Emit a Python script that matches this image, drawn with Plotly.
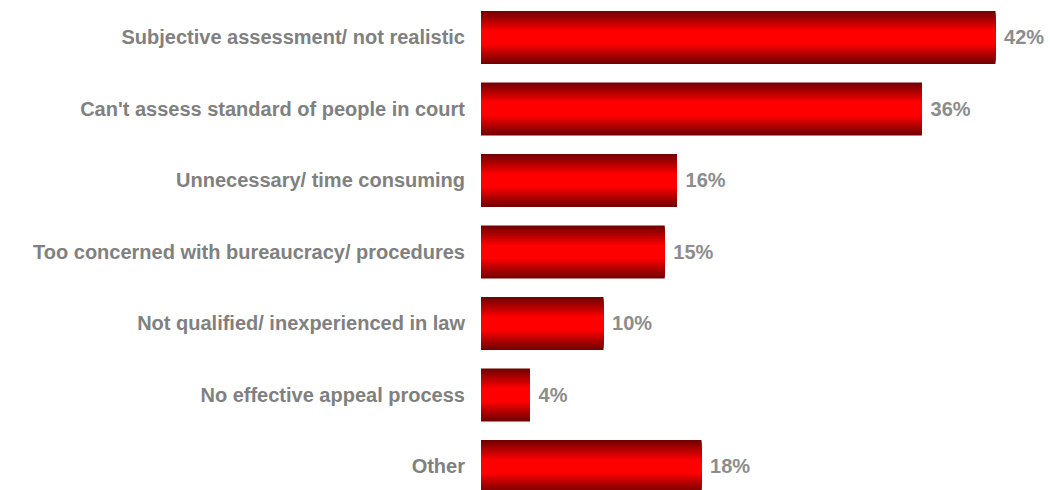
import plotly.graph_objects as go

categories = [
    "Subjective assessment/ not realistic",
    "Can't assess standard of people in court",
    "Unnecessary/ time consuming",
    "Too concerned with bureaucracy/ procedures",
    "Not qualified/ inexperienced in law",
    "No effective appeal process",
    "Other",
]
values = [42, 36, 16, 15, 10, 4, 18]

BAR_W = 0.74
N = 14
dark = (0x76, 0x00, 0x00)
bright = (0xFF, 0x00, 0x00)

def col(d):
    # d: 0 centre .. 1 edge
    if d <= 0.3:
        t = 0.0
    else:
        t = (d - 0.3) / 0.7
    t = t ** 0.9
    r = round(bright[0] + (dark[0] - bright[0]) * t)
    return f"rgb({r},0,0)"

fig = go.Figure()
for k in range(N):
    d = 1 - k / N
    fig.add_trace(go.Bar(
        y=categories, x=values, orientation="h",
        width=BAR_W * d,
        marker=dict(color=col(d), line=dict(width=0)),
        hoverinfo="skip", showlegend=False,
    ))
fig.add_trace(go.Bar(
    y=categories, x=values, orientation="h",
    width=BAR_W,
    marker=dict(color="rgba(0,0,0,0)", line=dict(width=0)),
    texttemplate=" %{x}%", textposition="outside", cliponaxis=False,
    textfont=dict(family="Liberation Sans", size=20, color="#8c8c8c", weight="bold"),
    showlegend=False,
))

fig.update_layout(
    barmode="overlay",
    width=1050, height=490,
    margin=dict(l=481, r=0, t=0, b=0),
    paper_bgcolor="white", plot_bgcolor="white",
    xaxis=dict(range=[0, 569 / 12.25], visible=False, showgrid=False, zeroline=False),
    yaxis=dict(
        type="category", range=[6.329, -0.524], showgrid=False, zeroline=False,
        showline=False, ticks="", ticklabelstandoff=15,
        tickfont=dict(family="Liberation Sans", size=20, color="#808080", weight="bold"),
    ),
)

fig.write_html("out.html")
